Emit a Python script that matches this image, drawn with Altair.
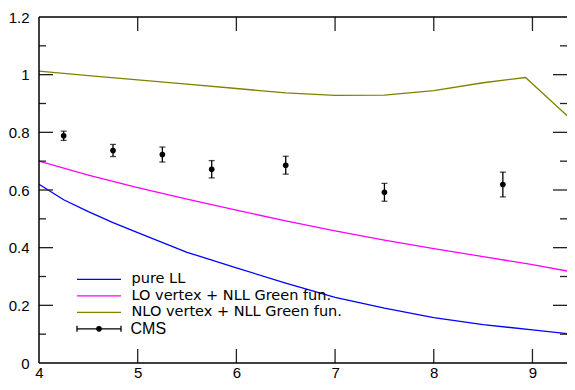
import altair as alt
import pandas as pd

# ---------------- data ----------------
x_ll = [4.0, 4.25, 4.5, 4.75, 5.0, 5.5, 6.0, 6.5, 7.0, 7.5, 8.0, 8.5, 9.0, 9.4]
pure_ll = [0.620, 0.566, 0.525, 0.487, 0.452, 0.384, 0.330, 0.277, 0.228, 0.190, 0.157, 0.133, 0.115, 0.100]

x_grid = [4.0, 4.5, 5.0, 5.5, 6.0, 6.5, 7.0, 7.5, 8.0, 8.5, 9.0, 9.4]
lo_nll = [0.700, 0.652, 0.608, 0.568, 0.530, 0.493, 0.458, 0.426, 0.397, 0.369, 0.341, 0.316]

x_nlo = [4.0, 4.5, 5.0, 5.5, 6.0, 6.5, 7.0, 7.5, 8.0, 8.5, 8.93, 9.4]
nlo_nll = [1.012, 0.997, 0.982, 0.967, 0.952, 0.937, 0.928, 0.929, 0.945, 0.972, 0.990, 0.842]

cms_x = [4.25, 4.75, 5.25, 5.75, 6.5, 7.5, 8.7]
cms_y = [0.788, 0.737, 0.723, 0.672, 0.686, 0.592, 0.619]
cms_err = [0.016, 0.021, 0.026, 0.030, 0.031, 0.031, 0.043]

series_names = ["pure LL", "LO vertex + NLL Green fun.", "NLO vertex + NLL Green fun."]
series_colors = ["#0000ff", "#ff00ff", "#808000"]
cms_label = "CMS"

x_label_ticks = [4, 5, 6, 7, 8, 9]
x_major_ticks = [5, 6, 7, 8, 9]
y_label_ticks = [0, 0.2, 0.4, 0.6, 0.8, 1.0, 1.2]
y_major_ticks = [0.2, 0.4, 0.6, 0.8, 1.0]
y_minor_ticks = [0.1, 0.3, 0.5, 0.7, 0.9, 1.1]

# ---------------- tables ----------------
rows = []
for xv, yv in zip(x_ll, pure_ll):
    rows.append({"series": series_names[0], "x": xv, "y": yv})
for xv, yv in zip(x_grid, lo_nll):
    rows.append({"series": series_names[1], "x": xv, "y": yv})
for xv, yv in zip(x_nlo, nlo_nll):
    rows.append({"series": series_names[2], "x": xv, "y": yv})
curves = pd.DataFrame(rows)

cms = pd.DataFrame({"x": cms_x, "y": cms_y, "err": cms_err})
cms["lo"] = cms["y"] - cms["err"]
cms["hi"] = cms["y"] + cms["err"]

W, H = 528, 346
xs = alt.Scale(domain=[4, 9.35], nice=False, zero=False)
ys = alt.Scale(domain=[0, 1.2], nice=False)

LABEL_FONT = "Liberation Sans"
one = alt.Data(values=[{"a": 1}])

x_axis = alt.Axis(values=x_label_ticks, title=None, ticks=False, tickSize=0, domain=False,
                  grid=False, labelFont=LABEL_FONT, labelFontSize=15, labelPadding=2,
                  labelColor="black", labelFlush=False)
y_axis = alt.Axis(values=y_label_ticks, title=None, ticks=False, tickSize=0, domain=False,
                  grid=False, format="~g", labelFont=LABEL_FONT, labelFontSize=15,
                  labelPadding=10, labelColor="black", labelFlush=False)


def X(field):
    return alt.X(field, scale=xs, axis=x_axis)


def Y(field):
    return alt.Y(field, scale=ys, axis=y_axis)


lines = alt.Chart(curves).mark_line(strokeWidth=1.3, clip=True).encode(
    x=X("x:Q"),
    y=Y("y:Q"),
    color=alt.Color("series:N", scale=alt.Scale(domain=series_names, range=series_colors), legend=None),
)

base_cms = alt.Chart(cms)
err_bars = base_cms.mark_rule(color="black", strokeWidth=1.3).encode(
    x=X("x:Q"), y=Y("lo:Q"), y2="hi:Q")
cap_lo = base_cms.mark_tick(color="black", orient="horizontal", size=6, thickness=1.3).encode(
    x=X("x:Q"), y=Y("lo:Q"))
cap_hi = base_cms.mark_tick(color="black", orient="horizontal", size=6, thickness=1.3).encode(
    x=X("x:Q"), y=Y("hi:Q"))
points = base_cms.mark_circle(color="black", size=32, opacity=1).encode(
    x=X("x:Q"), y=Y("y:Q"))

# ---------------- inward ticks ----------------
TICK_COLOR = "#222222"
MAJ, MIN = 14, 7
ymaj = pd.DataFrame({"v": y_major_ticks})
ymin = pd.DataFrame({"v": y_minor_ticks})
xmaj = pd.DataFrame({"v": x_major_ticks})

tick_layers = []
for df, ln in [(ymaj, MAJ), (ymin, MIN)]:
    tick_layers.append(alt.Chart(df).mark_rule(color=TICK_COLOR, strokeWidth=1.3).encode(
        y=Y("v:Q"), x=alt.value(0), x2=alt.value(ln)))
    tick_layers.append(alt.Chart(df).mark_rule(color=TICK_COLOR, strokeWidth=1.3).encode(
        y=Y("v:Q"), x=alt.value(W - ln), x2=alt.value(W)))
tick_layers.append(alt.Chart(xmaj).mark_rule(color=TICK_COLOR, strokeWidth=1.3).encode(
    x=X("v:Q"), y=alt.value(0), y2=alt.value(MAJ)))
tick_layers.append(alt.Chart(xmaj).mark_rule(color=TICK_COLOR, strokeWidth=1.3).encode(
    x=X("v:Q"), y=alt.value(H - MAJ), y2=alt.value(H)))

# ---------------- frame (right side falls off the page) ----------------
frame = [
    alt.Chart(one).mark_rule(color="black", strokeWidth=1.5).encode(
        x=alt.value(0), x2=alt.value(W), y=alt.value(0)),
    alt.Chart(one).mark_rule(color="black", strokeWidth=1.5).encode(
        x=alt.value(0), y=alt.value(0), y2=alt.value(H)),
    alt.Chart(one).mark_rule(color="black", strokeWidth=1.5).encode(
        x=alt.value(0), x2=alt.value(W), y=alt.value(H)),
]

# ---------------- legend ----------------
LX0, LX1, LTX, LY0, LDY = 38, 82, 92.5, 262.3, 16.5
legend_layers = []
for i, (name, col) in enumerate(zip(series_names, series_colors)):
    yy = LY0 + i * LDY
    legend_layers.append(alt.Chart(one).mark_rule(color=col, strokeWidth=1.3).encode(
        x=alt.value(LX0), x2=alt.value(LX1), y=alt.value(yy)))
    legend_layers.append(alt.Chart(one).mark_text(
        align="left", baseline="middle", font="DejaVu Sans", fontSize=14.5, color="black").encode(
        x=alt.value(LTX), y=alt.value(yy), text=alt.value(name)))
yy = LY0 + 3 * LDY
legend_layers += [
    alt.Chart(one).mark_rule(color="black", strokeWidth=1.3).encode(
        x=alt.value(LX0), x2=alt.value(LX1), y=alt.value(yy)),
    alt.Chart(one).mark_rule(color="black", strokeWidth=1.3).encode(
        x=alt.value(LX0), y=alt.value(yy - 3), y2=alt.value(yy + 3)),
    alt.Chart(one).mark_rule(color="black", strokeWidth=1.3).encode(
        x=alt.value(LX1), y=alt.value(yy - 3), y2=alt.value(yy + 3)),
    alt.Chart(one).mark_circle(color="black", size=32, opacity=1).encode(
        x=alt.value((LX0 + LX1) / 2), y=alt.value(yy)),
    alt.Chart(one).mark_text(align="left", baseline="middle", font=LABEL_FONT,
                             fontSize=16, color="black").encode(
        x=alt.value(LTX - 1), y=alt.value(yy), text=alt.value(cms_label)),
]

chart = alt.layer(
    lines, *tick_layers, *frame, err_bars, cap_lo, cap_hi, points, *legend_layers
).properties(
    width=W, height=H,
    padding={"left": 31, "top": 9, "right": 0, "bottom": 19},
    autosize=alt.AutoSizeParams(type="none"),
    background="white",
).configure_view(stroke=None)

chart.save("out.html", embed_options={"renderer": "svg", "actions": False})
